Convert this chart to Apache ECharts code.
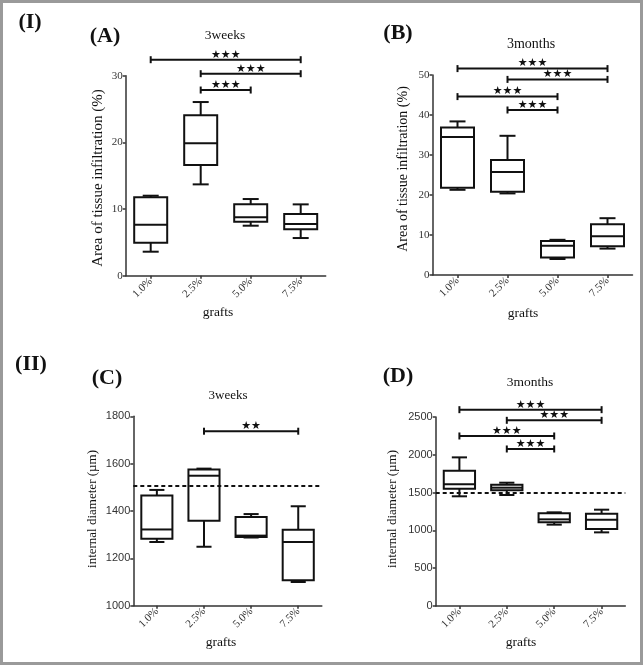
<!DOCTYPE html>
<html>
<head>
<meta charset="utf-8">
<script src="https://cdn.jsdelivr.net/npm/echarts@6/dist/echarts.min.js"></script>
<style>
html,body{margin:0;padding:0;background:#fff;}
#chart{width:643px;height:665px;}
</style>
</head>
<body>
<div id="chart"></div>
<script>
const cats = ['1.0%', '2.5%', '5.0%', '7.5%'];

// Panel A: 3 weeks, area of tissue infiltration (%)
const aMin = [3.6, 13.7, 7.5, 5.65];
const aQ1  = [4.95, 16.6, 8.1, 6.95];
const aMed = [7.65, 19.85, 8.75, 7.75];
const aQ3  = [11.75, 24.05, 10.7, 9.25];
const aMax = [12.0, 26.05, 11.5, 10.7];

// Panel B: 3 months, area of tissue infiltration (%)
const bMin = [21.3, 20.4, 4.0, 6.6];
const bQ1  = [21.8, 20.8, 4.4, 7.17];
const bMed = [34.5, 25.75, 7.33, 9.67];
const bQ3  = [36.9, 28.75, 8.5, 12.7];
const bMax = [38.4, 34.8, 8.8, 14.2];

// Panel C: 3 weeks, internal diameter (µm)
const cMin = [1269, 1249, 1288, 1100];
const cQ1  = [1283, 1359, 1290, 1107];
const cMed = [1322, 1549, 1296, 1269];
const cQ3  = [1465, 1575, 1375, 1321];
const cMax = [1489, 1579, 1387, 1420];
const cRef = 1505;

// Panel D: 3 months, internal diameter (µm)
const dMin = [1451, 1468, 1076, 974];
const dQ1  = [1552, 1530, 1107, 1018];
const dMed = [1609, 1565, 1146, 1142];
const dQ3  = [1790, 1605, 1226, 1221];
const dMax = [1966, 1631, 1239, 1274];
const dRef = 1500;

// significance brackets: [fromCategory, toCategory, level, label]
const sigA = [[0, 3, 32.4, '★★★'], [1, 3, 30.3, '★★★'], [1, 2, 27.85, '★★★']];
const sigB = [[0, 3, 51.6, '★★★'], [1, 3, 48.9, '★★★'], [0, 2, 44.6, '★★★'], [1, 2, 41.25, '★★★']];
const sigC = [[1, 3, 1737, '★★']];
const sigD = [[0, 3, 2597, '★★★'], [1, 3, 2456, '★★★'], [0, 2, 2249, '★★★'], [1, 2, 2077, '★★★']];

const SERIF = '"Liberation Serif", "Times New Roman", serif';
const SANS = '"Liberation Sans", Arial, sans-serif';

function boxData(mn, q1, md, q3, mx) {
  return cats.map((c, i) => [i, mn[i], q1[i], md[i], q3[i], mx[i]]);
}

function renderBox(params, api) {
  const i = api.value(0);
  const y = v => api.coord([i, v])[1];
  const cx = api.coord([i, api.value(3)])[0];
  const band = api.size([1, 0])[0];
  const w = band * 0.66, cw = band * 0.32;
  const mn = y(api.value(1)), q1 = y(api.value(2)), md = y(api.value(3)), q3 = y(api.value(4)), mx = y(api.value(5));
  const st = {stroke: '#111', lineWidth: 2, fill: null};
  return {
    type: 'group',
    children: [
      {type: 'line', shape: {x1: cx, y1: q3, x2: cx, y2: mx}, style: st},
      {type: 'line', shape: {x1: cx, y1: q1, x2: cx, y2: mn}, style: st},
      {type: 'line', shape: {x1: cx - cw / 2, y1: mx, x2: cx + cw / 2, y2: mx}, style: st},
      {type: 'line', shape: {x1: cx - cw / 2, y1: mn, x2: cx + cw / 2, y2: mn}, style: st},
      {type: 'rect', shape: {x: cx - w / 2, y: q3, width: w, height: q1 - q3}, style: {stroke: '#111', lineWidth: 2, fill: '#fff'}},
      {type: 'line', shape: {x1: cx - w / 2, y1: md, x2: cx + w / 2, y2: md}, style: st}
    ]
  };
}

function renderSig(params, api) {
  const p1 = api.coord([api.value(0), api.value(2)]);
  const p2 = api.coord([api.value(1), api.value(2)]);
  const st = {stroke: '#111', lineWidth: 2};
  return {
    type: 'group',
    children: [
      {type: 'line', shape: {x1: p1[0], y1: p1[1], x2: p2[0], y2: p2[1]}, style: st},
      {type: 'line', shape: {x1: p1[0], y1: p1[1] - 3.5, x2: p1[0], y2: p1[1] + 3.5}, style: st},
      {type: 'line', shape: {x1: p2[0], y1: p2[1] - 3.5, x2: p2[0], y2: p2[1] + 3.5}, style: st},
      {type: 'text', x: (p1[0] + p2[0]) / 2, y: p1[1] + 0.5,
        style: {text: api.value(3), fill: '#111', font: '11px "DejaVu Sans"', align: 'center', verticalAlign: 'bottom'}}
    ]
  };
}

const grids = [
  {left: 125.7, top: 75.7, width: 200, height: 200},
  {left: 432.5, top: 75, width: 200, height: 200},
  {left: 133.3, top: 416.3, width: 188.5, height: 189.4},
  {left: 435.7, top: 417, width: 189.6, height: 189}
];

const yRanges = [
  {min: 0, max: 30, interval: 10, font: SERIF},
  {min: 0, max: 50, interval: 10, font: SERIF},
  {min: 1000, max: 1800, interval: 200, font: SANS},
  {min: 0, max: 2500, interval: 500, font: SANS}
];

const axisLine = {show: true, lineStyle: {color: '#333', width: 1.5}};

const xAxes = grids.map((g, k) => ({
  type: 'category', gridIndex: k, data: cats, boundaryGap: true,
  axisLine: axisLine,
  axisTick: {show: true, alignWithLabel: true, length: 3, lineStyle: {color: '#333', width: 1.5}},
  axisLabel: {rotate: 45, margin: 4, fontFamily: SERIF, fontSize: 11, color: '#333'},
  splitLine: {show: false}
}));

const yAxes = yRanges.map((r, k) => ({
  type: 'value', gridIndex: k, min: r.min, max: r.max, interval: r.interval,
  axisLine: axisLine,
  axisTick: {show: true, length: 3, lineStyle: {color: '#333', width: 1.5}},
  axisLabel: {margin: 3, fontFamily: r.font, fontSize: k < 2 ? 11 : 11, color: '#333',
    formatter: v => String(v)},
  splitLine: {show: false}
}));

const boxes = [
  boxData(aMin, aQ1, aMed, aQ3, aMax),
  boxData(bMin, bQ1, bMed, bQ3, bMax),
  boxData(cMin, cQ1, cMed, cQ3, cMax),
  boxData(dMin, dQ1, dMed, dQ3, dMax)
];
const sigs = [sigA, sigB, sigC, sigD];
const refs = [null, null, cRef, dRef];

const series = [];
boxes.forEach((data, k) => {
  const s = {
    type: 'custom', xAxisIndex: k, yAxisIndex: k, renderItem: renderBox,
    encode: {x: 0, y: [1, 2, 3, 4, 5]}, data: data, silent: true, z: 3
  };
  if (refs[k] !== null) {
    s.markLine = {
      silent: true, symbol: 'none', label: {show: false},
      lineStyle: {type: [4, 3], color: '#111', width: 2},
      data: [{yAxis: refs[k]}], z: 4
    };
  }
  series.push(s);
  series.push({
    type: 'custom', xAxisIndex: k, yAxisIndex: k, renderItem: renderSig, clip: false,
    encode: {x: [0, 1], y: 2}, data: sigs[k], silent: true, z: 5
  });
});

function txt(x, y, text, font, opts) {
  return Object.assign({
    type: 'text', x: x, y: y,
    style: {text: text, font: font, fill: '#111', align: 'center', verticalAlign: 'middle'}
  }, opts || {});
}

const graphic = [
  {type: 'rect', shape: {x: 1.5, y: 1.5, width: 640, height: 662}, style: {fill: null, stroke: '#9a9a9a', lineWidth: 3}, z: 100},
  txt(30, 22, '(I)', 'bold 22px ' + SERIF),
  txt(105, 36, '(A)', 'bold 22px ' + SERIF),
  txt(398, 33, '(B)', 'bold 22px ' + SERIF),
  txt(31, 364, '(II)', 'bold 22px ' + SERIF),
  txt(107, 378, '(C)', 'bold 22px ' + SERIF),
  txt(398, 376, '(D)', 'bold 22px ' + SERIF),
  txt(225, 35, '3weeks', '13.5px ' + SERIF),
  txt(531, 44, '3months', '14px ' + SERIF),
  txt(228, 396, '3weeks', '13px ' + SERIF),
  txt(530, 382, '3months', '13.5px ' + SERIF),
  txt(218, 312, 'grafts', '13.5px ' + SERIF),
  txt(523, 313, 'grafts', '13.5px ' + SERIF),
  txt(221, 642, 'grafts', '13.5px ' + SERIF),
  txt(521, 642, 'grafts', '13.5px ' + SERIF),
  txt(98, 178, 'Area of tissue infiltration (%)', '15px ' + SERIF, {rotation: Math.PI / 2}),
  txt(403, 169, 'Area of tissue infiltration (%)', '14px ' + SERIF, {rotation: Math.PI / 2}),
  txt(93, 509, 'internal diameter (µm)', '13px ' + SERIF, {rotation: Math.PI / 2}),
  txt(393, 509, 'internal diameter (µm)', '13px ' + SERIF, {rotation: Math.PI / 2})
];

const chart = echarts.init(document.getElementById('chart'), null, {renderer: 'canvas'});
chart.setOption({
  animation: false,
  backgroundColor: '#fff',
  grid: grids,
  xAxis: xAxes,
  yAxis: yAxes,
  series: series,
  graphic: graphic
});
</script>
</body>
</html>
